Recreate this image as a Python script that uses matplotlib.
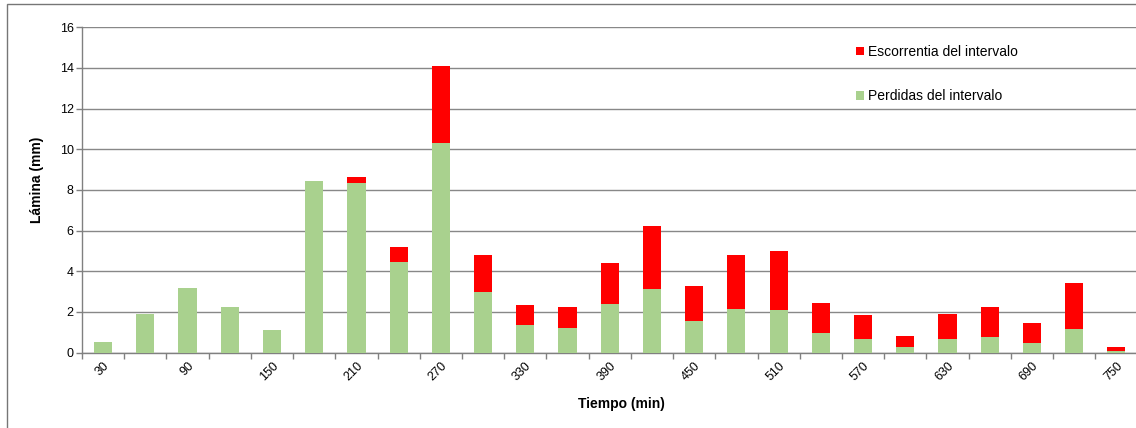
import matplotlib
matplotlib.use("Agg")
import matplotlib.pyplot as plt
from matplotlib.patches import Patch, Rectangle
import numpy as np

plt.rcParams['font.family'] = ['Liberation Sans', 'DejaVu Sans']

# Time of each interval (min)
tiempo = [30, 60, 90, 120, 150, 180, 210, 240, 270, 300, 330, 360, 390,
          420, 450, 480, 510, 540, 570, 600, 630, 660, 690, 720, 750]
# Losses in each interval (mm)
perdidas = [0.53, 1.91, 3.2, 2.22, 1.1, 8.42, 8.32, 4.46, 10.33, 2.97, 1.34,
            1.22, 2.38, 3.14, 1.53, 2.12, 2.09, 0.94, 0.66, 0.27, 0.68, 0.76,
            0.47, 1.16, 0.07]
# Runoff in each interval (mm)
escorrentia = [0.0, 0.0, 0.0, 0.0, 0.0, 0.0, 0.31, 0.74, 3.79, 1.82, 0.98,
               1.0, 2.02, 3.08, 1.77, 2.67, 2.91, 1.48, 1.17, 0.53, 1.21,
               1.46, 0.97, 2.26, 0.23]
y_ticks = [0, 2, 4, 6, 8, 10, 12, 14, 16]

W, H = 1136, 428
fig = plt.figure(figsize=(W / 100, H / 100), dpi=100)
ax = fig.add_axes([82 / W, (H - 352.6) / H, (1137.5 - 82) / W, (352.6 - 27.3) / H])

x = np.arange(len(tiempo))
verde = '#a9d18e'
rojo = '#ff0000'
ax.bar(x, perdidas, width=0.43, color=verde, edgecolor='none', zorder=3)
ax.bar(x, escorrentia, width=0.43, bottom=perdidas, color=rojo,
       edgecolor='none', zorder=3)

ax.set_xlim(-0.5, len(tiempo) - 0.5)
ax.set_ylim(0, 16)
ax.set_yticks(y_ticks)
ax.yaxis.grid(True, color='#888888', linewidth=1.0, zorder=0)

# category boundaries carry the tick marks, labels sit on every other centre
ax.set_xticks(np.arange(len(tiempo) + 1) - 0.5)
ax.set_xticklabels([])
lab_pos = x[::2]
ax.set_xticks(lab_pos, minor=True)
ax.set_xticklabels([str(tiempo[i]) for i in lab_pos], minor=True,
                   rotation=45, ha='right', va='top', rotation_mode='anchor',
                   fontsize=9)
ax.tick_params(axis='x', which='major', length=4, color='#808080', width=1)
ax.tick_params(axis='x', which='minor', length=0, pad=5)
ax.tick_params(axis='y', length=4, color='#808080', width=1, labelsize=9, pad=2)

for s in ['top', 'right']:
    ax.spines[s].set_visible(False)
for s in ['left', 'bottom']:
    ax.spines[s].set_color('#808080')
    ax.spines[s].set_linewidth(1.0)

ax.set_ylabel('Lámina (mm)', fontsize=10, fontweight='bold')
ax.yaxis.set_label_coords(-0.036, 0.532)
ax.set_xlabel('Tiempo (min)', fontsize=10, fontweight='bold')
ax.xaxis.set_label_coords(0.511, -0.1365)

handles = [Patch(facecolor=rojo, edgecolor='none'),
           Patch(facecolor=verde, edgecolor='none')]
ax.legend(handles, ['Escorrentia del intervalo', 'Perdidas del intervalo'],
          loc='upper left', bbox_to_anchor=((849 - 82) / 1055.5, (352.6 - 38) / 325.3),
          frameon=False, fontsize=10, handlelength=0.6, handleheight=0.6,
          handletextpad=0.3, labelspacing=2.2, borderpad=0)

# outer chart frame
fig.add_artist(Rectangle((7 / W, -0.1), 1.2, (H - 4) / H + 0.1,
                         transform=fig.transFigure, fill=False,
                         edgecolor='#767676', linewidth=1.0))

fig.savefig('out.png', dpi=100)
